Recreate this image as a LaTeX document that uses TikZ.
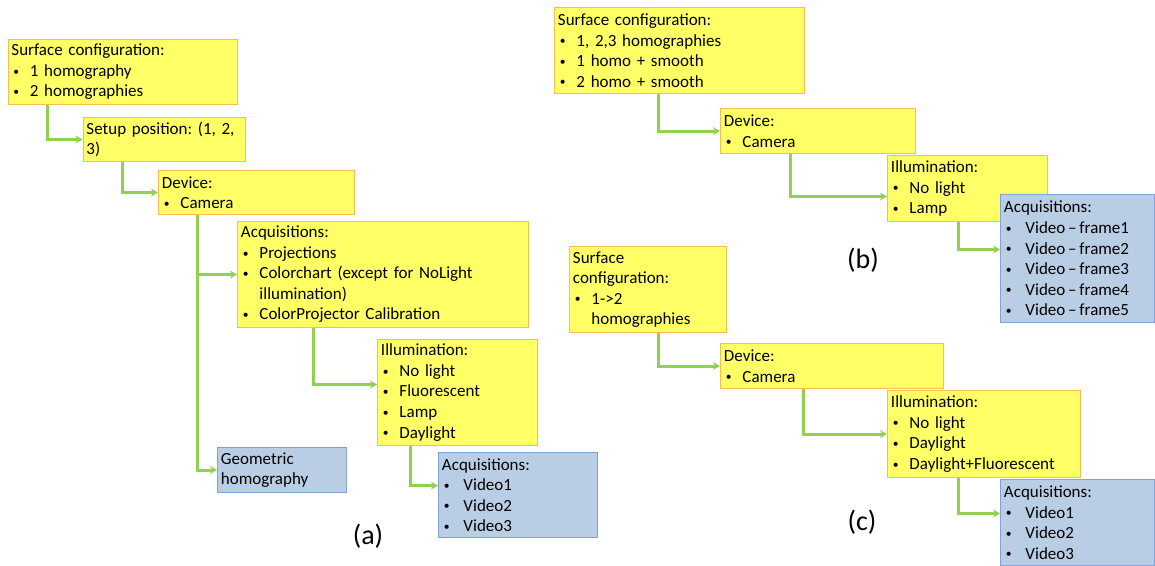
\documentclass[tikz,border=0pt]{standalone}
\usepackage{fontspec}
\setmainfont{Carlito}
\usetikzlibrary{arrows.meta}
\frenchspacing

% one drawing unit
\newdimen\pu \pu=0.75pt

% list lines inside the boxes
\newcommand\dotmark{\raisebox{0.9pt}{\scalebox{0.68}{\textbullet}}}
\newcommand\bl[2][18.5]{\mbox{\makebox[#1\pu][l]{\hspace{2\pu}\dotmark}#2}}
\newcommand\cl[2][18.5]{\mbox{\hspace{#1\pu}#2}}

\definecolor{yfill}{RGB}{255,255,102}
\definecolor{yborder}{RGB}{250,188,80}
\definecolor{bfill}{RGB}{185,205,229}
\definecolor{bborder}{RGB}{128,162,212}
\definecolor{lgreen}{RGB}{146,208,80}

\tikzset{
  box/.style={draw, line width=0.75pt, anchor=north west, inner xsep=2.6pt,
    inner ysep=1.5pt, align=left, font=\fontsize{12.75}{15.4}\selectfont},
  ybox/.style={box, draw=yborder, fill=yfill},
  bbox/.style={box, draw=bborder, fill=bfill},
  conn/.style={draw=lgreen, line width=2.25pt, -{Stealth[length=5.25pt,width=6pt]}},
  lab/.style={font=\fontsize{21}{25}\selectfont}
}

\begin{document}
\begin{tikzpicture}[x=0.75pt, y=-0.75pt]
\useasboundingbox (0,0) rectangle (1155,565);

% ---------------- (a) ----------------
\node[ybox, text width=223\pu, minimum height=65\pu] (a1) at (7.5,39)
  {Surface configuration:\\ \bl{1 homography}\\ \bl{2 homographies}};
\node[ybox, text width=156\pu, minimum height=44\pu] (a2) at (82.5,117)
  {Setup position: (1, 2,\\ 3)};
\node[ybox, text width=189\pu, minimum height=44\pu] (a3) at (158,170)
  {Device:\\ \bl{Camera}};
\node[ybox, text width=284\pu, minimum height=106\pu] (a4) at (237,221)
  {Acquisitions:\\ \bl{Projections}\\ \bl{Colorchart (except for NoLight}\\
   \cl{illumination)}\\ \bl{ColorProjector Calibration}};
\node[ybox, text width=153\pu, minimum height=106\pu] (a5) at (377,339)
  {Illumination:\\ \bl{No light}\\ \bl{Fluorescent}\\ \bl{Lamp}\\ \bl{Daylight}};
\node[bbox, text width=122\pu, minimum height=45\pu] (a6) at (217,447)
  {Geometric\\ homography};
\node[bbox, text width=152\pu, minimum height=85\pu] (a7) at (438,452)
  {Acquisitions:\\ \bl[21.5]{Video1}\\ \bl[21.5]{Video2}\\ \bl[21.5]{Video3}};

\draw[conn] ([xshift=30pt]a1.south west) |- (a2.west);
\draw[conn] ([xshift=30pt]a2.south west) |- (a3.west);
\draw[conn] ([xshift=29.25pt]a3.south west) |- (a6.west);
\draw[conn] ([xshift=29.25pt]a3.south west) |- (a4.west);
\draw[conn] ([xshift=57pt]a4.south west) |- ([yshift=6pt]a5.west);
\draw[conn] ([xshift=24.75pt]a5.south west) |- ([yshift=7pt]a7.west);

\node[lab] (la) at (368,536) {(a)};

% ---------------- (b) ----------------
\node[ybox, text width=243\pu, minimum height=86\pu] (b1) at (554,7)
  {Surface configuration:\\ \bl{1, 2,3 homographies}\\ \bl{1 homo + smooth}\\
   \bl{2 homo + smooth}};
\node[ybox, text width=188\pu, minimum height=45\pu] (b2) at (720,108)
  {Device:\\ \bl{Camera}};
\node[ybox, text width=153\pu, minimum height=66\pu] (b3) at (887,155)
  {Illumination:\\ \bl{No light}\\ \bl{Lamp}};
\node[bbox, text width=147\pu, minimum height=128\pu] (b4) at (1000,194)
  {Acquisitions:\\ \bl[21.5]{Video\,--\,frame1}\\ \bl[21.5]{Video\,--\,frame2}\\
   \bl[21.5]{Video\,--\,frame3}\\ \bl[21.5]{Video\,--\,frame4}\\ \bl[21.5]{Video\,--\,frame5}};

\draw[conn] ([xshift=78pt]b1.south west) |- (b2.west);
\draw[conn] ([xshift=52.5pt]b2.south west) |- ([yshift=-6pt]b3.west);
\draw[conn] ([xshift=53.25pt]b3.south west) |- ([yshift=6.75pt]b4.west);

\node[lab] (lb) at (863,260) {(b)};

% ---------------- (c) ----------------
\node[ybox, text width=150\pu, minimum height=86\pu] (c1) at (569,246)
  {Surface\\ configuration:\\ \bl{1->2}\\ \cl{homographies}};
\node[ybox, text width=216\pu, minimum height=45\pu] (c2) at (720,343)
  {Device:\\ \bl{Camera}};
\node[ybox, text width=186\pu, minimum height=87\pu] (c3) at (887,390)
  {Illumination:\\ \bl{No light}\\ \bl{Daylight}\\ \bl{Daylight+Fluorescent}};
\node[bbox, text width=147\pu, minimum height=86\pu] (c4) at (1000,479)
  {Acquisitions:\\ \bl[21.5]{Video1}\\ \bl[21.5]{Video2}\\ \bl[21.5]{Video3}};

\draw[conn] ([xshift=66.75pt]c1.south west) |- (c2.west);
\draw[conn] ([xshift=62.25pt]c2.south west) |- (c3.west);
\draw[conn] ([xshift=53.25pt]c3.south west) |- ([yshift=6.75pt]c4.west);

\node[lab] (lc) at (862,522) {(c)};
\end{tikzpicture}
\end{document}
